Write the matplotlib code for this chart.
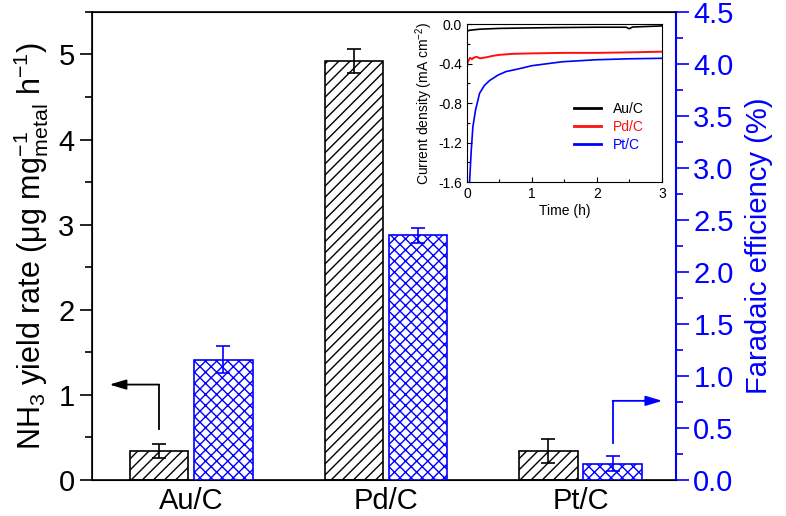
import numpy as np
from matplotlib import pyplot as plt
from matplotlib.ticker import MultipleLocator

plt.rcParams['font.family'] = ['Liberation Sans', 'DejaVu Sans']
plt.rcParams['mathtext.fontset'] = 'custom'
plt.rcParams['mathtext.rm'] = 'Liberation Sans'
plt.rcParams['mathtext.it'] = 'Liberation Sans:italic'
plt.rcParams['hatch.linewidth'] = 1.0

######################
# data
catalysts = ['Au/C', 'Pd/C', 'Pt/C']
yield_rate = [0.34, 4.92, 0.34]
yield_err = [0.08, 0.14, 0.14]
faradaic = [1.155, 2.35, 0.157]
faradaic_err = [0.13, 0.07, 0.07]

# inset: current density vs time
t_au = [0.0, 0.02, 0.05, 0.2, 0.5, 1.0, 1.5, 2.0, 2.45, 2.5, 2.55, 3.0]
j_au = [-0.075, -0.065, -0.06, -0.05, -0.042, -0.037, -0.033, -0.03, -0.03, -0.045, -0.028, -0.017]
t_pd = [0.0, 0.01, 0.03, 0.05, 0.08, 0.1, 0.15, 0.2, 0.3, 0.4, 0.5, 0.7, 1.0, 1.5, 2.0, 2.5, 3.0]
j_pd = [-0.45, -0.39, -0.36, -0.34, -0.355, -0.34, -0.33, -0.345, -0.335, -0.32, -0.31, -0.30, -0.295,
        -0.29, -0.29, -0.285, -0.278]
t_pt = [0.02, 0.041, 0.067, 0.092, 0.133, 0.195, 0.27, 0.35, 0.48, 0.6, 0.81, 1.0, 1.47, 1.98, 2.5, 3.0]
j_pt = [-1.9, -1.6, -1.28, -1.04, -0.87, -0.70, -0.62, -0.57, -0.515, -0.48, -0.45, -0.42, -0.38,
        -0.36, -0.35, -0.345]
######################

blue = '#0000FF'
fig = plt.figure(figsize=(7.86, 5.16), dpi=100)
ax = fig.add_axes([0.117, 0.070, 0.743, 0.907])
ax2 = ax.twinx()

x = np.arange(len(catalysts))
w = 0.30
ax.bar(x - 0.165, yield_rate, w, yerr=yield_err, color='white', edgecolor='black', hatch='///',
       linewidth=1.2, error_kw=dict(ecolor='black', capsize=5, elinewidth=1.2, capthick=1.2))
ax2.bar(x + 0.165, faradaic, w, yerr=faradaic_err, color='white', edgecolor=blue, hatch='xxx',
        linewidth=1.2, error_kw=dict(ecolor=blue, capsize=5, elinewidth=1.2, capthick=1.2))

ax.set_xlim(-0.51, 2.49)
ax.set_ylim(0, 5.5)
ax2.set_ylim(0, 4.5)
ax.set_xticks(x)
ax.set_xticklabels(catalysts, fontsize=21)
ax.tick_params(axis='x', length=0, pad=5)
ax.yaxis.set_major_locator(MultipleLocator(1))
ax.yaxis.set_minor_locator(MultipleLocator(0.5))
ax.tick_params(axis='y', which='major', length=9, width=1.2, labelsize=21)
ax.tick_params(axis='y', which='minor', length=5, width=1.2)
ax2.yaxis.set_major_locator(MultipleLocator(0.5))
ax2.yaxis.set_minor_locator(MultipleLocator(0.25))
ax2.tick_params(axis='y', which='major', length=9, width=1.2, labelsize=21, colors=blue)
ax2.tick_params(axis='y', which='minor', length=5, width=1.2, colors=blue)
ax2.yaxis.set_major_formatter(plt.FormatStrFormatter('%.1f'))
for s in ax.spines.values():
    s.set_linewidth(1.2)
ax2.spines['right'].set_color(blue)
ax2.spines['right'].set_linewidth(1.5)

ax.set_ylabel(r'NH$_3$ yield rate (μg mg$^{-1}_{\rm metal}$ h$^{-1}$)', fontsize=22, labelpad=5)
ax2.set_ylabel('Faradaic efficiency (%)', fontsize=21, color=blue, labelpad=8)

# direction arrows
ax.plot([-0.165, -0.165], [0.60, 1.12], color='black', lw=1.3)
ax.annotate('', xy=(-0.42, 1.12), xytext=(-0.165, 1.12),
            arrowprops=dict(arrowstyle='-|>,head_length=1.0,head_width=0.3', color='black', lw=1.3,
                            shrinkA=0, shrinkB=0))
ax2.plot([2.165, 2.165], [0.35, 0.76], color=blue, lw=1.3)
ax2.annotate('', xy=(2.42, 0.76), xytext=(2.165, 0.76),
             arrowprops=dict(arrowstyle='-|>,head_length=1.0,head_width=0.3', color=blue, lw=1.3,
                             shrinkA=0, shrinkB=0))

# inset
ins = fig.add_axes([0.594, 0.647, 0.248, 0.306])
ins.plot(t_au, j_au, color='black', lw=1.2, label='Au/C')
ins.plot(t_pd, j_pd, color='#FF1010', lw=1.4, label='Pd/C')
ins.plot(t_pt, j_pt, color=blue, lw=1.2, label='Pt/C')
ins.set_xlim(0, 3)
ins.set_ylim(-1.6, 0.0)
ins.xaxis.set_major_locator(MultipleLocator(1))
ins.xaxis.set_minor_locator(MultipleLocator(0.5))
ins.yaxis.set_major_locator(MultipleLocator(0.4))
ins.yaxis.set_minor_locator(MultipleLocator(0.2))
ins.yaxis.set_major_formatter(plt.FormatStrFormatter('%.1f'))
ins.tick_params(which='both', direction='in', labelsize=10, width=0.8)
ins.tick_params(which='major', length=3.5)
ins.tick_params(which='minor', length=2)
ins.set_xlabel('Time (h)', fontsize=10, labelpad=2)
ins.set_ylabel(r'Current density (mA cm$^{-2}$)', fontsize=10, labelpad=2)
leg = ins.legend(loc='center right', bbox_to_anchor=(0.97, 0.35), frameon=False, fontsize=10,
                 handlelength=2.0, labelspacing=0.3, labelcolor='linecolor')
for ln in leg.get_lines():
    ln.set_linewidth(2.0)

plt.savefig('out.png', dpi=100)
